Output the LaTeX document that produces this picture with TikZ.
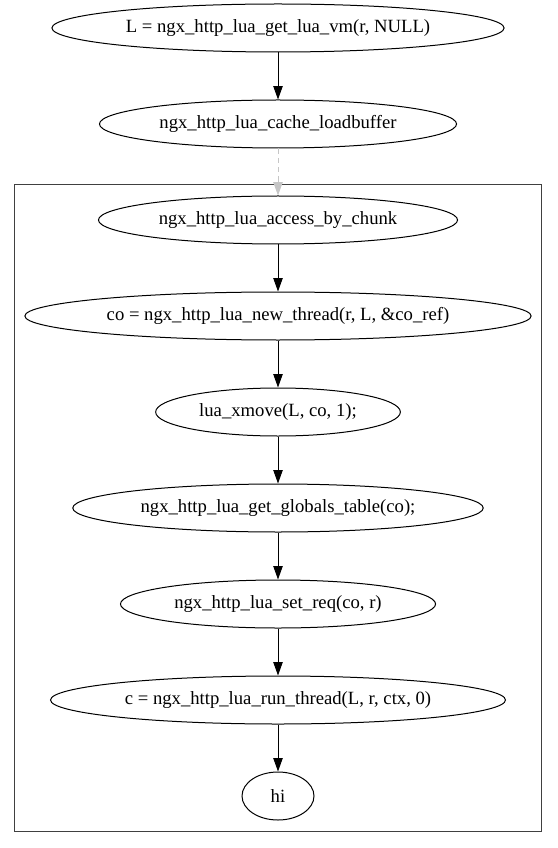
\documentclass[tikz,border=0pt]{standalone}
\usepackage{fontspec}
\setmainfont{Liberation Serif}
\usetikzlibrary{arrows.meta,positioning,shapes.geometric,fit}

\begin{document}
\begin{tikzpicture}[x=0.75pt,y=-0.75pt,
	call/.style={ellipse, draw, line width=0.75pt, inner xsep=5.8pt, minimum width=54pt, minimum height=36pt, font=\fontsize{14pt}{16pt}\selectfont},
	flow/.style={draw, line width=0.75pt, -{Triangle[length=10pt,width=7pt]}},
	node distance=35.25pt]
		\useasboundingbox (0,0) rectangle (557,848);
		\node (vm) at (278,28) [call] {L = ngx\_http\_lua\_get\_lua\_vm(r, NULL)};
		\node (cache) [below=of vm, call] {ngx\_http\_lua\_cache\_loadbuffer};
		\node (access) [below=of cache, call] {ngx\_http\_lua\_access\_by\_chunk};
		\node (co) [below=of access, call] {co = ngx\_http\_lua\_new\_thread(r, L, \&co\_ref)};
		\node (xmove) [below=of co, call] {lua\_xmove(L, co, 1);};
		\node (globals) [below=of xmove, call] {ngx\_http\_lua\_get\_globals\_table(co);};
		\node (setreq) [below=of globals, call] {ngx\_http\_lua\_set\_req(co, r)};
		\node (run) [below=of setreq, call] {c = ngx\_http\_lua\_run\_thread(L, r, ctx, 0)};
		\node (hi) [below=of run, call] {hi};
		\node (cluster) [fit=(access)(co)(hi), draw, black!75, line width=0.75pt, inner xsep=7.5pt, inner ysep=8.5pt] {};
		\path [flow] (vm) -- (cache);
		\path [flow, gray!45, dash pattern=on 4pt off 3pt] (cache) -- (access);
		\path [flow] (access) -- (co);
		\path [flow] (co) -- (xmove);
		\path [flow] (xmove) -- (globals);
		\path [flow] (globals) -- (setreq);
		\path [flow] (setreq) -- (run);
		\path [flow] (run) -- (hi);
\end{tikzpicture}
\end{document}
